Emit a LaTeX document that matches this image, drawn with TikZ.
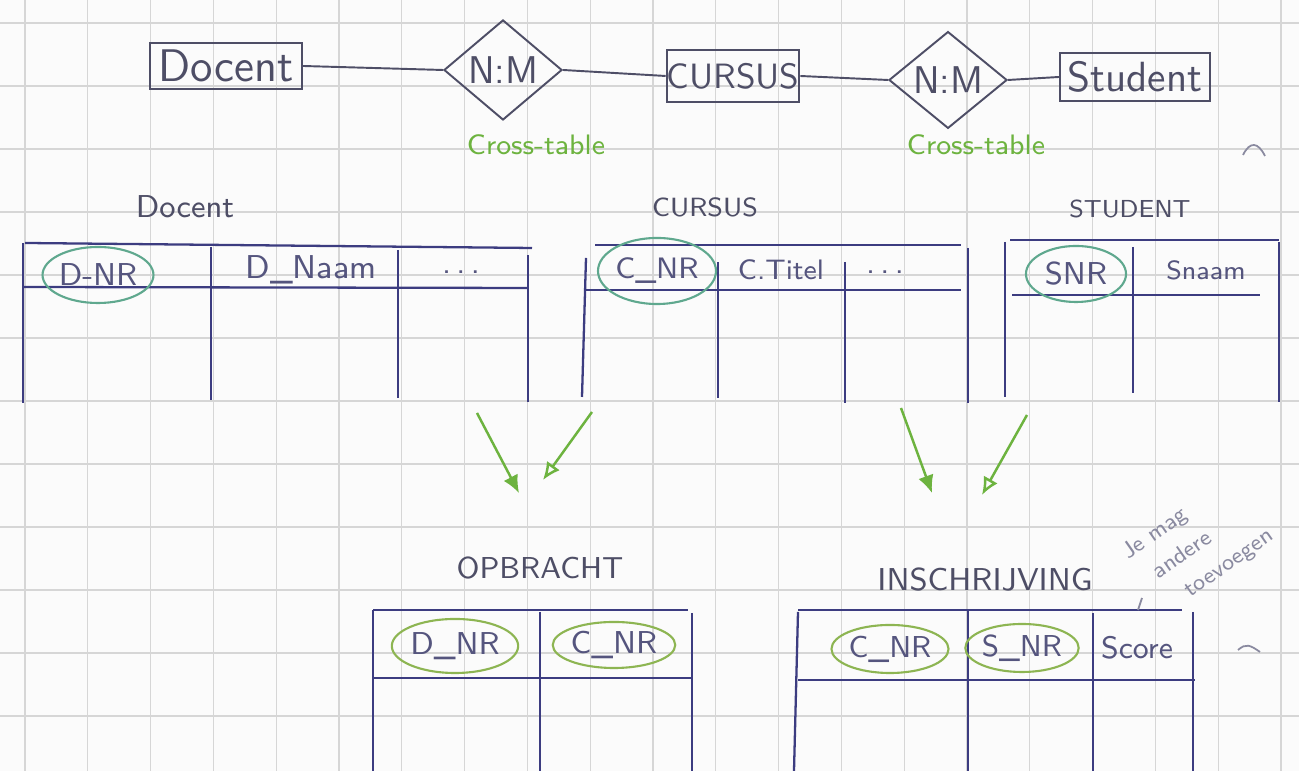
\documentclass[tikz,border=0pt]{standalone}
\usepackage{fontspec}
\renewcommand\familydefault{\sfdefault}
\usetikzlibrary{shapes.geometric,arrows.meta}
\definecolor{paper}{HTML}{FBFBFB}
\definecolor{gridc}{HTML}{D6D6D6}
\definecolor{ink}{HTML}{4E4E66}
\definecolor{tabink}{HTML}{3C3C80}
\definecolor{cellink}{HTML}{55557E}
\definecolor{greenink}{HTML}{6DB33F}
\definecolor{keyA}{HTML}{5FA88E}
\definecolor{keyB}{HTML}{8DB552}
\definecolor{pencil}{HTML}{8A8AA0}

\begin{document}
\begin{tikzpicture}[x=0.01cm,y=-0.01cm,
  entity/.style={draw=ink, line width=0.55pt, minimum width=1.5cm, minimum height=0.46cm,
    inner sep=0pt, text=ink, font=\fontsize{13}{13}\selectfont},
  rel/.style={draw=ink, line width=0.55pt, diamond, minimum width=1.18cm, minimum height=1.0cm,
    inner sep=0pt, text=ink, font=\fontsize{11}{11}\selectfont},
  link/.style={ink, line width=0.55pt},
  note/.style={text=greenink, font=\fontsize{8}{9}\selectfont},
  caption/.style={text=ink, font=\fontsize{9}{9}\selectfont},
  tab/.style={tabink, line width=0.65pt},
  cell/.style={text=cellink, font=\fontsize{9}{9}\selectfont, inner sep=0pt},
  keyone/.style={draw=keyA, line width=0.6pt, ellipse, inner sep=0pt, text=cellink,
    font=\fontsize{9}{9}\selectfont},
  keytwo/.style={draw=keyB, line width=0.6pt, ellipse, inner sep=0pt, text=cellink,
    font=\fontsize{9}{9}\selectfont},
  flow/.style={greenink, line width=0.7pt, -{Latex[length=5pt,width=4.5pt]}},
  flowopen/.style={greenink, line width=0.7pt, -{Latex[open,length=5pt,width=4.5pt]}},
  remark/.style={text=pencil, font=\fontsize{6.5}{7}\selectfont, rotate=35, anchor=base west, inner sep=0pt},
  scribble/.style={pencil, line width=0.5pt}
]
% paper and squared grid
\fill[paper] (0,0) rectangle (1299,771);
\useasboundingbox (0,0) rectangle (1299,771);
\foreach \i in {0,...,20} \draw[gridc, line width=0.35pt] ({25+62.8*\i},0) -- ({25+62.8*\i},771);
\foreach \j in {0,...,11} \draw[gridc, line width=0.35pt] (0,{23+63*\j}) -- (1299,{23+63*\j});

% ---------- ER sketch ----------
\node[entity, minimum width=1.52cm] (docent) at (226,66) {Docent};
\node[rel] (nm1) at (503,70) {N:M};
\node[entity, minimum width=1.32cm, minimum height=0.52cm, font=\fontsize{10}{10}\selectfont] (cursus) at (733,76) {CURSUS};
\node[rel, minimum height=0.95cm] (nm2) at (948,80) {N:M};
\node[entity, minimum width=1.5cm, minimum height=0.48cm, font=\fontsize{12}{12}\selectfont] (student) at (1135,77) {Student};
\draw[link] (docent.east) -- (nm1.west);
\draw[link] (nm1.east) -- (cursus.west);
\draw[link] (cursus.east) -- (nm2.west);
\draw[link] (nm2.east) -- (student.west);
\node[note] (cross1) at (536,145) {Cross-table};
\node[note] (cross2) at (976,145) {Cross-table};

% ---------- table Docent ----------
\node[caption] (tdocent) at (185,207) {Docent};
\draw[tab] (25,243) -- (532,248);
\draw[tab] (23,243) -- (23,403);
\draw[tab] (23,287) -- (528,288);
\draw[tab] (211,247) -- (211,400);
\draw[tab] (398,250) -- (398,398);
\draw[tab] (528,255) -- (528,402);
\node[keyone, minimum width=0.96cm, minimum height=0.56cm] (dnr) at (98,275) {D-NR};
\node[cell, font=\fontsize{9.4}{9}\selectfont] (dnaam) at (311,270) {D\_Naam};
\node[cell] (ddots) at (461,272) {.\,.\,.};

% ---------- table Cursus ----------
\node[caption, font=\fontsize{7.5}{8}\selectfont] (tcursus) at (705,207) {CURSUS};
\draw[tab] (595,245) -- (961,245);
\draw[tab] (586,258) -- (582,397);
\draw[tab] (586,290) -- (961,290);
\draw[tab] (718,262) -- (718,398);
\draw[tab] (845,262) -- (845,403);
\draw[tab] (968,248) -- (968,403);
\node[keyone, minimum width=0.86cm, minimum height=0.66cm, font=\fontsize{8.4}{8}\selectfont] (cnr) at (657,271) {C\_NR};
\node[cell, font=\fontsize{8}{8}\selectfont] (ctitel) at (781,270) {C.Titel};
\node[cell] (cdots) at (885,272) {.\,.\,.};

% ---------- table Student ----------
\node[caption, font=\fontsize{7}{8}\selectfont] (tstudent) at (1130,209) {STUDENT};
\draw[tab] (1010,240) -- (1279,240);
\draw[tab] (1005,242) -- (1005,397);
\draw[tab] (1012,295) -- (1260,295);
\draw[tab] (1133,247) -- (1133,393);
\draw[tab] (1279,242) -- (1279,402);
\node[keyone, minimum width=1.0cm, minimum height=0.56cm] (snr) at (1076,274) {SNR};
\node[cell, font=\fontsize{7.5}{8}\selectfont] (snaam) at (1206,270) {Snaam};

% ---------- derivation arrows ----------
\coordinate (d1) at (477,413); \coordinate (o1) at (519,493);
\coordinate (d2) at (592,412); \coordinate (o2) at (543,480);
\coordinate (d3) at (901,408); \coordinate (o3) at (932,493);
\coordinate (d4) at (1027,415); \coordinate (o4) at (982,495);
\draw[flow] (d1) -- (o1);
\draw[flowopen] (d2) -- (o2);
\draw[flow] (d3) -- (o3);
\draw[flowopen] (d4) -- (o4);

% ---------- table Opbracht ----------
\node[caption, font=\fontsize{8.6}{9}\selectfont] (topbracht) at (540,568) {OPBRACHT};
\draw[tab] (373,610) -- (688,610);
\draw[tab] (373,610) -- (373,771);
\draw[tab] (373,678) -- (693,678);
\draw[tab] (540,612) -- (540,771);
\draw[tab] (692,613) -- (692,771);
\node[keytwo, minimum width=1.04cm, minimum height=0.54cm] (odnr) at (455,646) {D\_NR};
\node[keytwo, minimum width=1.14cm, minimum height=0.46cm] (ocnr) at (614,645) {C\_NR};

% ---------- table Inschrijving ----------
\node[caption] (tinschr) at (985,580) {INSCHRIJVING};
\draw[tab] (798,610) -- (1182,610);
\draw[tab] (798,612) -- (794,771);
\draw[tab] (798,680) -- (1195,680);
\draw[tab] (968,610) -- (968,771);
\draw[tab] (1093,613) -- (1093,771);
\draw[tab] (1193,612) -- (1193,771);
\node[keytwo, minimum width=0.94cm, minimum height=0.48cm, font=\fontsize{8.6}{8}\selectfont] (icnr) at (890,649) {C\_NR};
\node[keytwo, minimum width=0.9cm, minimum height=0.48cm, font=\fontsize{8.6}{8}\selectfont] (isnr) at (1022,648) {S\_NR};
\node[cell, font=\fontsize{8.8}{8}\selectfont] (score) at (1137,648) {Score};

% ---------- pencil remarks ----------
\node[remark] (hint1) at (1128,560) {Je mag};
\node[remark] (hint2) at (1158,580) {andere};
\node[remark] (hint3) at (1190,598) {toevoegen};
\draw[scribble] (1142,598) -- (1138,610);
\draw[scribble] (1243,155) .. controls (1250,141) and (1258,142) .. (1265,156);
\draw[scribble] (1238,650) .. controls (1246,643) and (1250,645) .. (1260,652);
\end{tikzpicture}
\end{document}
